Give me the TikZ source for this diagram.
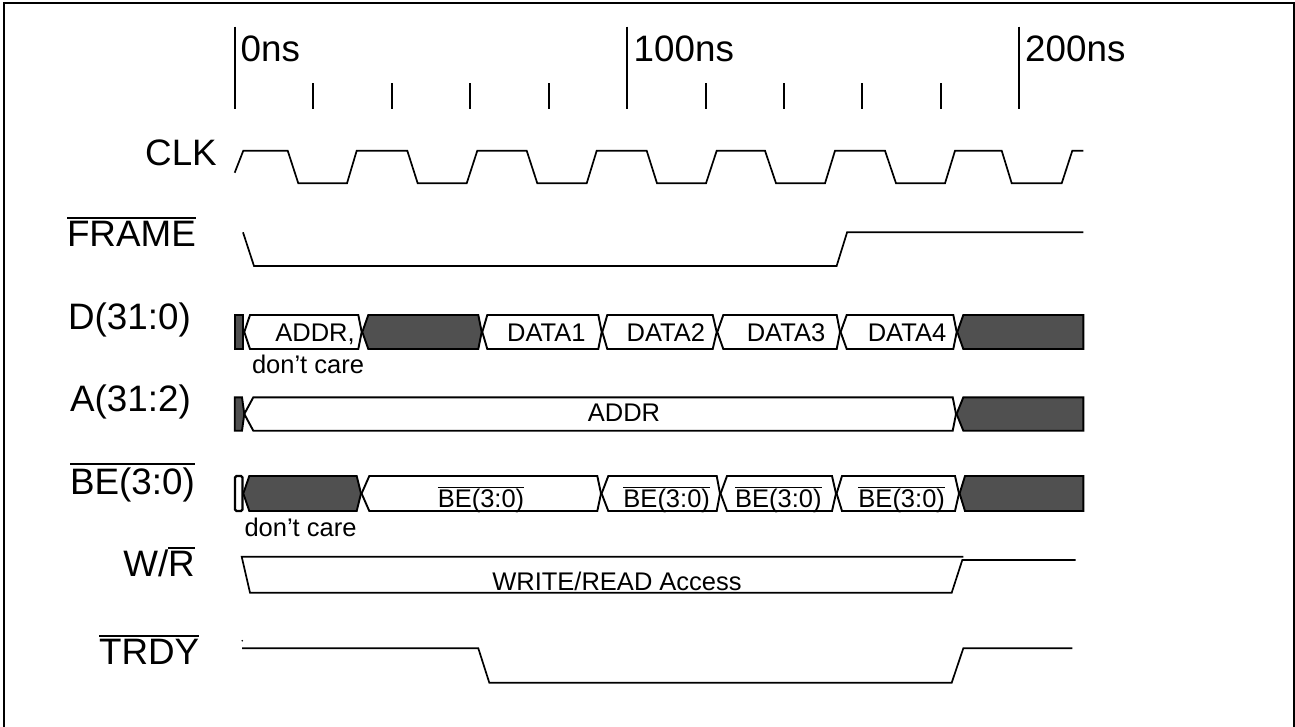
\documentclass[tikz,border=0pt]{standalone}
\usepackage{fontspec}
\setmainfont{Liberation Sans}
\definecolor{busgray}{RGB}{80,80,80}
\newcommand\ovl[3]{\vbox{\hrule height #1\kern #2\hbox{#3}}}
\newcommand\busseg[7]{%
  \draw[#7] (#1,{(#5+#6)/2}) -- (#2,#5) -- (#3,#5) -- (#4,{(#5+#6)/2}) -- (#3,#6) -- (#2,#6) -- cycle;}
\tikzset{
  wave/.style={line width=1.7pt, line join=miter},
  tick/.style={line width=1.7pt},
  wbus/.style={line width=1.9pt, fill=white, draw=black},
  gbus/.style={line width=1.9pt, fill=busgray, draw=black},
  big/.style={inner sep=0pt, font=\fontsize{36.8}{40}\selectfont},
  small/.style={inner sep=0pt, font=\fontsize{25.5}{28}\selectfont},
}
\begin{document}
\begin{tikzpicture}[x=1pt,y=-1pt]
\useasboundingbox (0,0) rectangle (1295,726);
% frame
\draw[line width=1.8pt] (4,728) -- (4,3.3) -- (1294.3,3.3) -- (1294.3,728);
% time axis
\foreach \x in {234.7,626.7,1019} \draw[tick] (\x,26.7) -- (\x,109);
\foreach \x in {313,391.7,470,549,706,783.7,861.7,940.7} \draw[tick] (\x,83) -- (\x,109);
\node[big, anchor=base west] (t0) at (240.5,61) {0ns};
\node[big, anchor=base west] (t100) at (633.5,61) {100ns};
\node[big, anchor=base west] (t200) at (1025,61) {200ns};
% signal labels
\node[big, anchor=base east] (lclk) at (217,165) {CLK};
\node[big, anchor=base east] (lframe) at (196,246.7) {\ovl{2pt}{2pt}{FRAME}};
\node[big, anchor=base east] (ld) at (191,329) {D(31:0)};
\node[big, anchor=base east] (la) at (191,411) {A(31:2)};
\node[big, anchor=base east] (lbe) at (195,494.5) {\ovl{2pt}{2.5pt}{BE(3:0)}};
\node[big, anchor=base east] (lwr) at (195,576) {W/\ovl{2pt}{2pt}{R}};
\node[big, anchor=base east] (ltrdy) at (199.5,664) {\ovl{2pt}{2pt}{TRDY}};
% CLK
\draw[wave] (234.7,172.7) -- (243.3,150.7) -- (287.7,150.7) -- (298.3,183.3) -- (347,183.3)
  -- (356.7,150.7) -- (407.3,150.7) -- (417.7,183.3) -- (466.7,183.3)
  -- (477.3,150.7) -- (526.7,150.7) -- (537.3,183.3) -- (586.7,183.3)
  -- (596.7,150.7) -- (646.7,150.7) -- (657,183.3) -- (706,183.3)
  -- (716.7,150.7) -- (765,150.7) -- (776,183.3) -- (825,183.3)
  -- (835,150.7) -- (885,150.7) -- (896,183.3) -- (945,183.3)
  -- (955,150.7) -- (1001.7,150.7) -- (1011.7,183.3) -- (1061.7,183.3)
  -- (1072.3,150.7) -- (1083.3,150.7);
% FRAME
\draw[wave] (243,232.3) -- (254,266) -- (836.6,266) -- (847.1,232.3) -- (1083.3,232.3);
% D(31:0)
\draw[gbus] (234.7,315) rectangle (243.3,349);
\busseg{244.3}{250}{358.3}{361.7}{315}{349}{wbus}
\busseg{362.3}{368.3}{478.3}{481.7}{315}{349}{gbus}
\busseg{482.3}{487.3}{598.3}{601.7}{315}{349}{wbus}
\busseg{602.3}{607.3}{712.7}{716.7}{315}{349}{wbus}
\busseg{717.3}{723.3}{836.7}{840}{315}{349}{wbus}
\busseg{840.6}{846.7}{953.3}{956.7}{315}{349}{wbus}
\draw[gbus] (957.3,332) -- (963.3,315) -- (1083.3,315) -- (1083.3,349) -- (963.3,349) -- cycle;
\node[small, anchor=base] (daddr) at (315,341.7) {ADDR,};
\node[small, anchor=base] (ddc) at (308,373.3) {don’t care};
\node[small, anchor=base] (d1) at (546.3,341.7) {DATA1};
\node[small, anchor=base] (d2) at (665.8,341.7) {DATA2};
\node[small, anchor=base] (d3) at (786,341.7) {DATA3};
\node[small, anchor=base] (d4) at (907,341.7) {DATA4};
% A(31:2)
\draw[gbus] (234.7,397.3) -- (242,397.3) -- (244.3,414) -- (242,430.7) -- (234.7,430.7) -- cycle;
\busseg{244.3}{253.3}{952.7}{956}{397.3}{430.7}{wbus}
\draw[gbus] (956.6,414) -- (963.3,397.3) -- (1083.3,397.3) -- (1083.3,430.7) -- (963.3,430.7) -- cycle;
\node[small, anchor=base] (aaddr) at (624,421.6) {ADDR};
% BE(3:0)
\draw[line width=2.2pt, fill=white, rounded corners=1.5pt] (235,476) rectangle (242.5,511);
\busseg{243.3}{249.3}{356.7}{361}{476}{511}{gbus}
\busseg{361.6}{369.3}{597.3}{601}{476}{511}{wbus}
\busseg{601.6}{608.3}{716.7}{720}{476}{511}{wbus}
\busseg{720.6}{727}{832}{836}{476}{511}{wbus}
\busseg{836.6}{842}{955}{959}{476}{511}{wbus}
\draw[gbus] (959.6,493.5) -- (965,476) -- (1083.3,476) -- (1083.3,511) -- (965,511) -- cycle;
\node[small, anchor=base] (be1) at (481,507.3) {\ovl{1.5pt}{0.6pt}{BE(3:0)}};
\node[small, anchor=base] (be2) at (666.7,507.3) {\ovl{1.5pt}{0.6pt}{BE(3:0)}};
\node[small, anchor=base] (be3) at (778.3,507.3) {\ovl{1.5pt}{0.6pt}{BE(3:0)}};
\node[small, anchor=base] (be4) at (901.7,507.3) {\ovl{1.5pt}{0.6pt}{BE(3:0)}};
\node[small, anchor=base] (bedc) at (300.5,536) {don’t care};
% W/R
\draw[wave] (963.3,556.7) -- (241.7,556.7) -- (250,592.7) -- (951.7,592.7) -- (962.3,560) -- (1075.7,560);
\node[small, anchor=base] (wrt) at (617,590) {WRITE/READ Access};
% TRDY
\fill (242.3,640.7) circle (0.9pt);
\draw[wave] (242,648.3) -- (478.3,648.3) -- (489.3,682.7) -- (951.7,682.7) -- (963.3,648.3) -- (1072.3,648.3);
\end{tikzpicture}
\end{document}
